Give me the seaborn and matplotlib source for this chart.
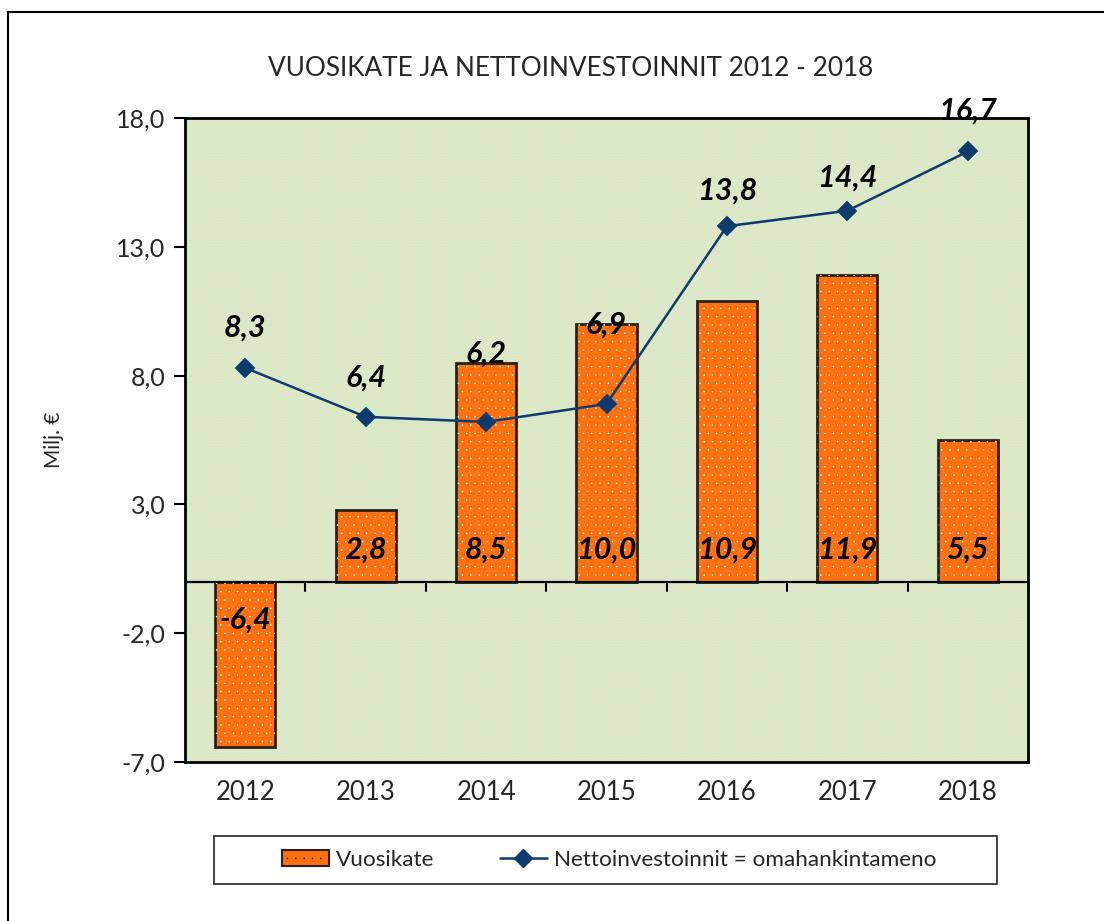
import matplotlib
matplotlib.use("Agg")
import matplotlib.pyplot as plt
import matplotlib.patches as mpatches
from matplotlib.lines import Line2D
import seaborn as sns
import pandas as pd
import numpy as np

years = ["2012", "2013", "2014", "2015", "2016", "2017", "2018"]
vuosikate = [-6.4, 2.8, 8.5, 10.0, 10.9, 11.9, 5.5]
netto = [8.3, 6.4, 6.2, 6.9, 13.8, 14.4, 16.7]
yticks = [-7, -2, 3, 8, 13, 18]

title = "VUOSIKATE JA NETTOINVESTOINNIT 2012 - 2018"
ylabel = "Milj. €"
bar_name = "Vuosikate"
line_name = "Nettoinvestoinnit = omahankintameno"

# label offsets above markers (pixels)
line_label_offset_px = [40, 39, 68, 79, 36, 33, 41]

sns.set_theme(style="white")
plt.rcParams["font.family"] = ["Lato", "DejaVu Sans"]
plt.rcParams["hatch.linewidth"] = 0.0

W, H = 1104, 921
fig = plt.figure(figsize=(W / 100, H / 100), dpi=100)
ax = fig.add_axes([185 / W, 1 - 762 / H, (1028 - 185) / W, (762 - 118) / H])

# background
ax.set_facecolor("#dbe8c6")
bg = mpatches.Rectangle((0, 0), 1, 1, transform=ax.transAxes, facecolor="none",
                        edgecolor="#f4f8ee", hatch="......", lw=0, zorder=0)
ax.add_patch(bg)

df = pd.DataFrame({"year": years, "vuosikate": vuosikate, "netto": netto})

orange = "#ff7010"
sns.barplot(data=df, x="year", y="vuosikate", color=orange, saturation=1,
            width=0.5, edgecolor="#2b2016", linewidth=2, ax=ax, zorder=2)
for p in list(ax.patches):
    if isinstance(p, mpatches.Rectangle) and p is not bg:
        ov = mpatches.Rectangle(p.get_xy(), p.get_width(), p.get_height(),
                                facecolor="none", edgecolor="white", hatch="..",
                                lw=0, zorder=2.5)
        ax.add_patch(ov)

navy = "#0d3b70"
sns.pointplot(data=df, x="year", y="netto", color=navy, markers="D",
              markersize=9, linewidth=1.8, ax=ax, zorder=4)

ax.axhline(0, color="black", lw=1.6, zorder=3)
for i in range(len(years) - 1):
    ax.plot([i + 0.5, i + 0.5], [0, -0.38], color="black", lw=1.5,
            zorder=3, clip_on=False)

ax.set_ylim(-7, 18)
ax.set_xlim(-0.5, len(years) - 0.5)
ax.set_yticks(yticks)
ax.set_yticklabels([f"{v:.1f}".replace(".", ",") for v in yticks], fontsize=18)
ax.tick_params(axis="y", length=8, width=1.5, color="black", direction="out",
               left=True, pad=6)
ax.tick_params(axis="x", length=0, pad=13, labelsize=18.5)
ax.set_xlabel("")
ax.set_ylabel(ylabel, fontsize=15, labelpad=38)
for s in ax.spines.values():
    s.set_visible(True)
    s.set_color("black")
    s.set_linewidth(2)

fmt = lambda v: f"{v:.1f}".replace(".", ",")
for i, v in enumerate(netto):
    ax.annotate(fmt(v), (i, v), xytext=(0, line_label_offset_px[i] * 0.72),
                textcoords="offset points",
                ha="center", va="center", fontsize=22, fontweight="bold",
                fontstyle="italic", color="black", clip_on=False, zorder=6)
for i, v in enumerate(vuosikate):
    off = 23 if v >= 0 else -27
    ax.annotate(fmt(v), (i, 0), xytext=(0, off), textcoords="offset points",
                ha="center", va="center", fontsize=22, fontweight="bold",
                fontstyle="italic", color="black", zorder=6)

fig.text(571 / W, 1 - 68 / H, title, ha="center", va="center", fontsize=18.8)

# legend
h_bar = mpatches.Patch(facecolor=orange, edgecolor="#2b2016", hatch="..", lw=1.5)
h_line = Line2D([0], [0], color=navy, marker="D", markersize=9, lw=1.8)
leg = fig.legend([h_bar, h_line], [bar_name, line_name], ncol=2,
                 loc="center", bbox_to_anchor=(609 / W, 1 - 860 / H),
                 frameon=False, fontsize=16.2, handlelength=2.1,
                 handletextpad=0.3, columnspacing=2.9, borderpad=0.3,
                 borderaxespad=0)
legbox = mpatches.Rectangle((214 / W, 1 - 884 / H), (997 - 214) / W, 48 / H,
                            transform=fig.transFigure, fill=False,
                            edgecolor="#222222", lw=1.2)
fig.patches.append(legbox)

# outer chart frame
frame = mpatches.Rectangle((8 / W, -0.1), 2, 1.1 - 12 / H, transform=fig.transFigure,
                           fill=False, edgecolor="black", lw=1.5)
fig.patches.append(frame)

fig.savefig("out.png", dpi=100, facecolor="white")
